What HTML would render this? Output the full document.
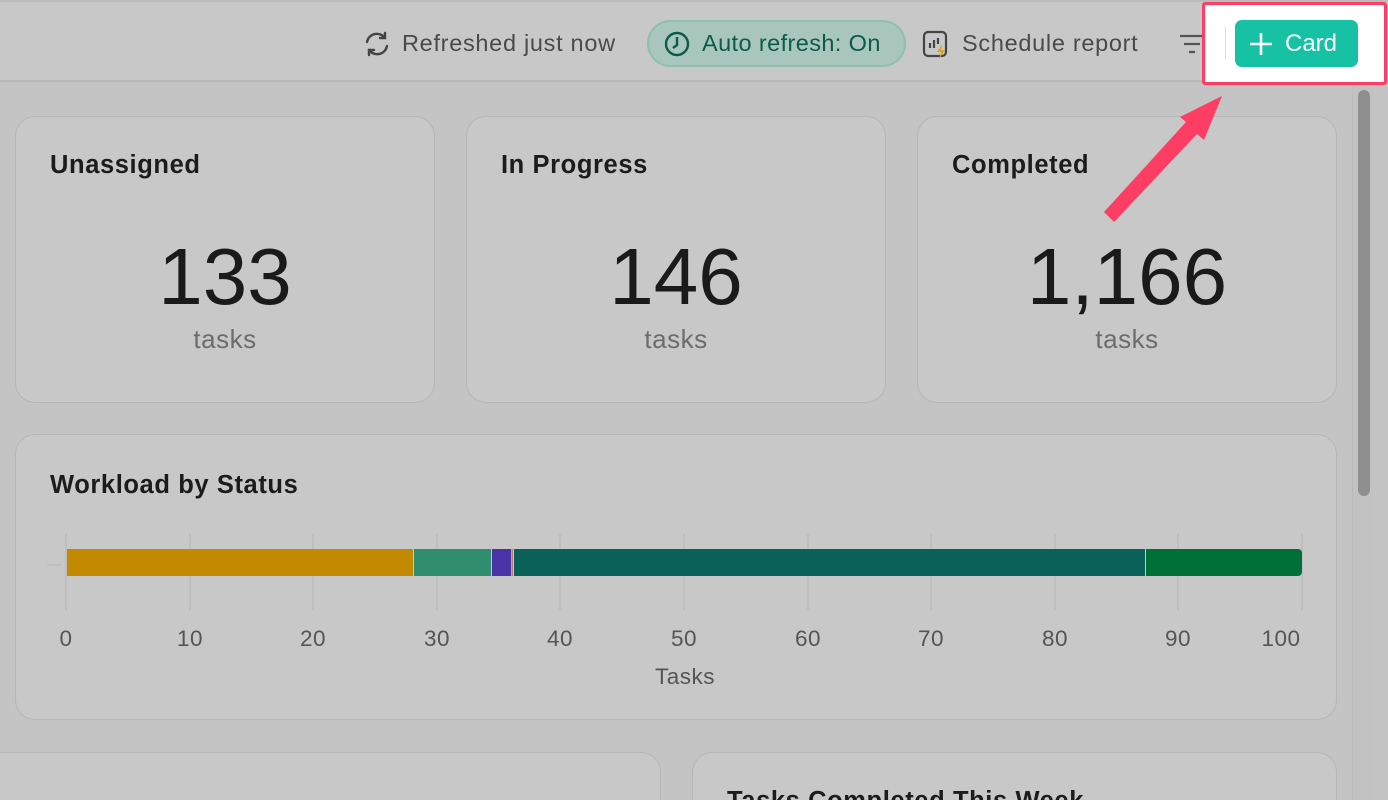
<!DOCTYPE html>
<html style="width:1388px;height:800px;overflow:hidden"><head><meta charset="utf-8"><style>
*{margin:0;padding:0;box-sizing:border-box}
body{width:1388px;height:800px;overflow:hidden;background:#c4c4c4;font-family:"Liberation Sans",sans-serif;position:relative;color:#1a1a1a}
.a{position:absolute}
.card{position:absolute;background:#c8c8c8;border:1px solid #b6b6b6;border-radius:20px}
.t{position:absolute;font-size:25.5px;letter-spacing:0.6px;font-weight:bold;color:#1c1c1c;white-space:nowrap}
.num{position:absolute;left:0;right:0;text-align:center;font-size:80px;color:#1a1a1a;top:120px;line-height:80px}
.sub{position:absolute;left:0;right:0;text-align:center;font-size:26px;letter-spacing:0.5px;color:#6c6c6c;top:207px}
.tb{position:absolute;top:30px;font-size:23.5px;letter-spacing:0.7px;color:#4a4a4a;white-space:nowrap}
.bc{position:absolute;top:752px;height:48px;background:#c8c8c8;border:1px solid #b6b6b6;border-bottom:none;border-radius:20px 20px 0 0;overflow:hidden}
</style></head><body>
<div class="a" style="left:0;top:0;width:1388px;height:82px;background:#c8c8c8;border-bottom:2px solid #b8b8b8;border-top:2px solid #bbb"></div>
<svg class="a" style="left:363px;top:30px" width="28" height="28" viewBox="0 0 28 28" fill="none" stroke="#444" stroke-width="2.4" stroke-linecap="round"><path d="M4 12a10 10 0 0 1 18-4M24 16a10 10 0 0 1-18 4"/><path d="M22 3v5h-5M6 25v-5h5"/></svg>
<div class="tb" style="left:402px">Refreshed just now</div>
<div class="a" style="left:647px;top:20px;width:259px;height:47px;border-radius:24px;background:#a9c6bc;border:2px solid #8fbfae"></div>
<svg class="a" style="left:663px;top:30px" width="28" height="28" viewBox="0 0 28 28" fill="none" stroke="#0d5a48" stroke-width="2.4"><circle cx="14" cy="14" r="11"/><path d="M14 7v8l-4 3"/></svg>
<div class="tb" style="left:702px;color:#0d5a48;letter-spacing:0.4px">Auto refresh: On</div>
<svg class="a" style="left:922px;top:30px" width="30" height="30" viewBox="0 0 30 30" fill="none" stroke="#444" stroke-width="2.2"><rect x="2" y="2" width="22" height="24" rx="4"/><path d="M8 18v-5M12 18v-8M16 14v-6"/><path d="M20 14l-5 8h4l-2 7 6-9h-4z" fill="#e0a020" stroke="none"/></svg>
<div class="tb" style="left:962px">Schedule report</div>
<svg class="a" style="left:1178px;top:32px" width="28" height="24" stroke="#555" stroke-width="2.2"><path d="M2 4h24M6 12h16M11 20h6"/></svg>
<div class="a" style="left:1202px;top:2px;width:185px;height:83px;background:#fff;border:3px solid #fe3d65;border-radius:3px"></div>
<div class="a" style="left:1225px;top:27px;width:1px;height:32px;background:#ddd"></div>
<div class="a" style="left:1235px;top:20px;width:123px;height:47px;background:#17c1a3;border-radius:7px;color:#fff;font-size:24px;line-height:47px;padding-left:50px">Card</div>
<svg class="a" style="left:1249px;top:32px" width="24" height="24" stroke="#fff" stroke-width="2.6"><path d="M12 1v22M1 12h22"/></svg>
<div class="a" style="left:1352px;top:86px;width:22px;height:714px;background:#c2c2c2;border-left:1px solid #bbb"></div>
<div class="a" style="left:1358px;top:90px;width:12px;height:406px;background:#8f8f8f;border-radius:6px"></div>

<div class="card" style="left:15px;top:116px;width:420px;height:287px"><div class="t" style="left:34px;top:34px">Unassigned</div><div class="num">133</div><div class="sub">tasks</div></div>
<div class="card" style="left:466px;top:116px;width:420px;height:287px"><div class="t" style="left:34px;top:34px">In Progress</div><div class="num">146</div><div class="sub">tasks</div></div>
<div class="card" style="left:917px;top:116px;width:420px;height:287px"><div class="t" style="left:34px;top:34px">Completed</div><div class="num">1,166</div><div class="sub">tasks</div></div>

<div class="card" style="left:15px;top:434px;width:1322px;height:286px"><div class="t" style="left:34px;top:36px">Workload by Status</div></div>
<svg class="a" style="left:0;top:0" width="1388" height="800">
<g stroke="#bcbcbc" stroke-width="1.5">
<path d="M66 534V610M190 534V610M313 534V610M437 534V610M560 534V610M684 534V610M808 534V610M931 534V610M1055 534V610M1178 534V610M1302 534V610"/>
<path d="M47 565H62"/></g>
<rect x="67" y="549" width="346" height="27" fill="#c38900"/>
<rect x="414" y="549" width="77" height="27" fill="#308e6e"/>
<rect x="492" y="549" width="19" height="27" fill="#4834a6"/>
<rect x="511.5" y="549" width="1.5" height="27" fill="#c87070"/>
<rect x="514" y="549" width="631" height="27" fill="#09615a"/>
<path d="M1146 549H1298a4 4 0 0 1 4 4V572a4 4 0 0 1-4 4H1146z" fill="#006f38"/>
<g font-family="Liberation Sans,sans-serif" font-size="22.5" letter-spacing="0.5" fill="#555" text-anchor="middle">
<text x="66" y="646">0</text><text x="190" y="646">10</text><text x="313" y="646">20</text><text x="437" y="646">30</text><text x="560" y="646">40</text><text x="684" y="646">50</text><text x="808" y="646">60</text><text x="931" y="646">70</text><text x="1055" y="646">80</text><text x="1178" y="646">90</text><text x="1281" y="646">100</text>
<text x="685" y="684">Tasks</text></g>
</svg>
<div class="bc" style="left:-20px;width:681px"></div>
<div class="bc" style="left:692px;width:645px"><div class="t" style="left:34px;top:34px;line-height:29px">Tasks Completed This Week</div></div>
<svg class="a" style="left:0;top:0" width="1388" height="800"><path d="M1104 212L1186 122L1180 117L1222 96L1204 140L1197 134L1114 222Z" fill="#fe3d65"/></svg>
</body></html>
